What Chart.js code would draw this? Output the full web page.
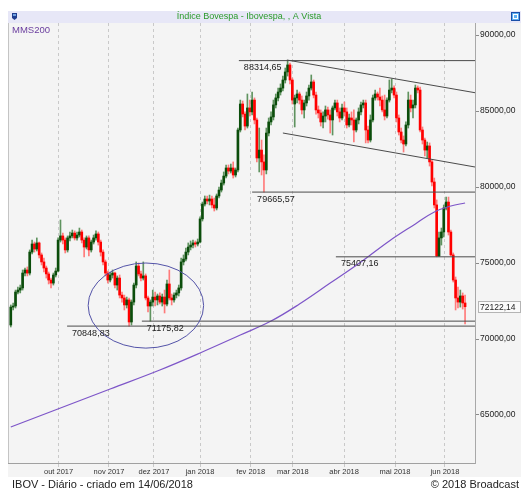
<!DOCTYPE html>
<html>
<head>
<meta charset="utf-8">
<script src="https://cdn.jsdelivr.net/npm/chart.js@4.4.1/dist/chart.umd.min.js"></script>
<style>
html,body{margin:0;padding:0;background:#ffffff;overflow:hidden}
#wrap{position:relative;width:521px;height:492px}
canvas{display:block}
</style>
</head>
<body>
<div id="wrap"><canvas id="c" width="521" height="492"></canvas></div>
<script>
// ---- Data (IBOV daily, 01/09/2017 .. 14/06/2018), trading-day index 0..192 ----
const opens = [
70920,72100,72170,73090,73220,73360,74340,74540,74340,75720,
76250,75920,76320,75530,75070,74670,74280,73880,73680,74210,
74470,76510,76780,76510,75860,76650,76780,76970,76650,76840,
77040,76510,76050,76650,75860,76380,76650,76910,76380,75720,
75070,74340,73880,74210,74340,73550,74010,72890,72700,72240,
72570,71120,72430,73550,74800,74280,74010,74150,72700,72170,
72430,72760,72570,72830,72430,72760,72300,73620,72700,72570,
72890,73030,73360,75070,75260,75720,76050,76180,76320,76250,
76380,77900,78880,79210,79080,79210,78820,78620,79410,79800,
80260,80720,81250,81050,81250,80790,81120,83750,85460,84800,
84010,85200,84940,85720,84410,81910,82430,81650,81120,83550,
84280,84610,85400,85860,86250,86510,87040,87570,88030,87040,
85460,85860,86120,85720,85070,85530,85990,86510,86910,86050,
85070,84870,84280,84670,85070,84740,84410,85200,85530,84940,
84540,85200,84940,84080,84540,84410,83750,84410,84940,85400,
85530,83750,83090,84410,85860,86120,85920,85720,85070,84670,
85720,86380,86510,86050,84540,83620,83090,82830,84080,85720,
85200,85400,86510,86380,83750,83090,82430,82700,81650,80330,
78820,75460,76650,77040,78620,79010,77040,75530,73880,72700,
72430,72830,72370
];
const highs = [
72240,72370,73220,73420,73550,74540,74670,74740,75860,76510,
76380,76650,76380,75660,75330,74800,74410,74010,74340,74670,
76650,77830,76970,76650,76780,77040,77170,77110,77040,77300,
77170,76650,76780,76780,76510,76840,77110,77040,76510,75860,
75200,74470,74410,74540,74410,74150,74210,73090,72890,72760,
72700,72570,73680,75070,75000,74470,75070,74280,72830,72570,
73220,73090,72960,73030,72960,73220,73880,74540,72960,73030,
73220,73550,75330,75530,75990,76320,76450,76510,76450,76580,
78030,79010,79410,79410,79470,79410,79280,79540,80000,80460,
80990,81450,81450,81510,81650,81250,83880,85720,85660,84940,
86120,85720,86250,85860,84540,83880,83090,82110,83880,84540,
84940,85720,86120,86510,86780,87300,87830,88314.65,88160,87170,
86050,86380,86250,85990,85720,86250,86710,87370,87040,86250,
85330,85070,84940,85330,85260,85070,85330,85720,85720,85200,
85460,85590,85200,84800,84940,85070,84540,85200,85590,85720,
85720,84010,84740,86050,86380,86250,86510,85990,86050,85860,
87040,87110,86650,86250,84740,83880,83360,84280,86250,86050,
85720,86710,86650,86580,83950,83220,82960,82900,81780,80590,
79150,77040,77300,78820,79340,79340,77170,75660,74080,73420,
73220,73030,72890
];
const lows = [
70790,71910,72040,72960,73030,73220,74150,74150,74210,75590,
75720,75790,75330,74870,74410,74010,73620,73360,73550,74080,
74410,76380,76250,75660,75720,76450,76650,76510,76510,76710,
76320,75400,75920,75460,75720,76250,76510,76180,75460,74870,
74150,73680,73750,74010,73360,73220,72700,72430,71910,72040,
70848.83,70920,72240,73360,74150,73820,73880,72570,71780,71175.82,
72170,72170,72240,72300,72170,71710,72170,72570,72240,72430,
72700,72830,73220,74870,75130,75530,75860,75990,76050,76120,
76320,77760,78750,78880,78820,78620,78420,78490,79280,79670,
80130,80590,80860,80920,80590,80660,80990,83620,84610,83750,
83880,84670,84740,84150,81650,80990,80790,79665.57,80860,83360,
84080,84410,85200,85660,86050,86320,86840,87300,86780,85460,
83950,85530,85460,84800,84540,85330,85720,86380,85860,84800,
84540,84010,83880,84280,84470,83550,83420,85070,84670,84280,
84410,84670,83880,83950,84080,82960,83620,84150,84740,85200,
82900,82900,82960,84280,85720,85720,85330,84940,84410,84540,
85590,86190,85860,84280,83420,82900,82300,82700,83880,84940,
84540,85200,86190,83620,82830,82040,81910,81380,80070,78620,
75407.16,75420,76180,76710,78490,76840,75460,73750,71910,72040,
72100,71970,70990
];
const closes = [
72100,72170,73090,73220,73360,74340,74540,74340,75720,76250,
75920,76320,75530,75070,74670,74280,73880,73680,74210,74470,
76510,76780,76510,75860,76650,76780,76970,76650,76840,77040,
76510,76050,76650,75860,76380,76650,76910,76380,75720,75070,
74340,73880,74210,74340,73550,74010,72890,72700,72240,72570,
71120,72430,73550,74800,74280,74010,74150,72700,72170,72430,
72760,72570,72830,72430,72760,72300,73620,72700,72570,72890,
73030,73360,75070,75260,75720,76050,76180,76320,76250,76380,
77900,78880,79210,79080,79210,78820,78620,79410,79800,80260,
80720,81250,81050,81250,80790,81120,83750,85460,84800,84010,
85200,84940,85720,84410,81910,82430,81650,81120,83550,84280,
84610,85400,85860,86250,86510,87040,87570,88030,87040,85720,
85860,86120,85720,85070,85530,85990,86510,86910,86050,85070,
84870,84280,84670,85070,84740,84410,85200,85530,84940,84540,
85200,84940,84080,84540,84410,83750,84410,84940,85400,85530,
83750,83090,84410,85860,86120,85920,85720,85070,84670,85720,
86380,86510,86050,84540,83620,83090,82830,84080,85720,85200,
85400,86510,86380,83750,83090,82430,82700,81650,80330,78820,
75460,76650,77040,78620,79010,77040,75530,73880,72700,72430,
72830,72370,72122.14
];

// 200-day moving average (MMS200), sampled along the trading-day index
const maIdx  = [0, 21, 42, 63, 80, 97, 110, 122, 135, 148, 160, 171, 179, 186, 192];
const maVals = [64210, 65460, 66710, 67960, 69080, 70260, 71180, 72300, 73680, 75070, 76450, 77570, 78360, 78750, 78950];

// Month ticks (trading-day index of the month boundary) and labels
const monthTicks  = [20.2, 41.5, 60.5, 80.0, 101.4, 119.2, 140.9, 162.4, 183.5];
const monthLabels = ['out 2017','nov 2017','dez 2017','jan 2018','fev 2018','mar 2018','abr 2018','mai 2018','jun 2018'];

// Price axis ticks
const yTicks = [65000, 70000, 75000, 80000, 85000, 90000];

// Drawn support / resistance levels and the index where each begins
const levels     = [88314.65, 79665.57, 75407.16, 71175.82, 70848.83];
const levelStart = [96.4, 102.0, 137.4, 55.4, 23.8];

// Channel trend lines: [startIndex, startValue, endIndex, endValue]
const channelUpper = [116.7, 88355, 196.2, 86204];
const channelLower = [115.0, 83553, 196.2, 81316];

// Ellipse around the double bottom: [centerIndex, centerValue, radiusIndex, radiusValue]
const bottomEllipse = [57.1, 72200, 24.4, 2800];

const lastValue = 72122.14;

// ---- Chart ----
const FONT = "'Liberation Sans', Arial, Helvetica, sans-serif";
const X_MIN = -1.18, X_MAX = 196.2, Y_MIN = 61842, Y_MAX = 90790;
const fmt = v => v.toFixed(2).replace('.', ',');
const idx = closes.map((_, i) => i);
const up = closes.map((c, i) => c >= opens[i]);

const UP_BODY = '#0b4d0b', UP_WICK = '#5f935f', DN_BODY = '#ff0000', DN_WICK = '#ff7b7b';
const LINE_COL = '#4a4a4a';

const datasets = [
  {
    type: 'bar', label: 'wick',
    data: idx.map(i => ({x: i, y: [lows[i], highs[i]]})),
    backgroundColor: up.map(u => u ? UP_WICK : DN_WICK),
    barThickness: 1, grouped: false, borderWidth: 0, order: 4
  },
  {
    type: 'bar', label: 'body',
    data: idx.map(i => ({x: i, y: [Math.min(opens[i], closes[i]), Math.max(opens[i], closes[i])]})),
    backgroundColor: up.map(u => u ? UP_BODY : DN_BODY),
    barThickness: 2, minBarLength: 1, grouped: false, borderWidth: 0, order: 3
  },
  {
    type: 'line', label: 'MMS200',
    data: maIdx.map((x, k) => ({x, y: maVals[k]})),
    borderColor: '#7d55c8', borderWidth: 1.2, pointRadius: 0, tension: 0.4, order: 2
  }
];
levels.forEach((lv, k) => datasets.push({
  type: 'line', label: 'lvl' + k,
  data: [{x: levelStart[k], y: lv}, {x: X_MAX, y: lv}],
  borderColor: LINE_COL, borderWidth: 1, pointRadius: 0, order: 1
}));
[channelUpper, channelLower].forEach((c, k) => datasets.push({
  type: 'line', label: 'ch' + k,
  data: [{x: c[0], y: c[1]}, {x: c[2], y: c[3]}],
  borderColor: LINE_COL, borderWidth: 1, pointRadius: 0, order: 1
}));

const chrome = {
  id: 'chrome',
  beforeDraw(chart) {
    const ctx = chart.ctx;
    ctx.save();
    ctx.fillStyle = '#ffffff';
    ctx.fillRect(0, 0, 521, 492);
    // header band
    ctx.fillStyle = '#e7e7f7';
    ctx.fillRect(8, 11, 513, 12);
    // panel
    ctx.fillStyle = '#f4f4f4';
    ctx.fillRect(8, 23, 513, 454);
    ctx.restore();
  },
  afterDatasetsDraw(chart) {
    const ctx = chart.ctx, xs = chart.scales.x, ys = chart.scales.y;
    ctx.save();
    // ellipse
    const cx = xs.getPixelForValue(bottomEllipse[0]);
    const cy = ys.getPixelForValue(bottomEllipse[1]);
    const rx = xs.getPixelForValue(bottomEllipse[0] + bottomEllipse[2]) - cx;
    const ry = cy - ys.getPixelForValue(bottomEllipse[1] + bottomEllipse[3]);
    ctx.strokeStyle = '#5353a8';
    ctx.lineWidth = 1;
    ctx.beginPath();
    ctx.ellipse(cx, cy, rx, ry, 0, 0, Math.PI * 2);
    ctx.stroke();
    // level labels
    ctx.font = '9px ' + FONT;
    ctx.fillStyle = '#222222';
    ctx.textAlign = 'left';
    ctx.textBaseline = 'middle';
    levels.forEach((lv, k) => {
      ctx.fillText(fmt(lv), xs.getPixelForValue(levelStart[k]) + 5, ys.getPixelForValue(lv) + 7);
    });
    ctx.restore();
  },
  afterDraw(chart) {
    const ctx = chart.ctx, ys = chart.scales.y, area = chart.chartArea;
    ctx.save();
    // left border of plot
    ctx.strokeStyle = '#c4c4c4';
    ctx.lineWidth = 1;
    ctx.beginPath();
    ctx.moveTo(area.left + 0.5, area.top);
    ctx.lineTo(area.left + 0.5, area.bottom);
    ctx.stroke();
    // last value box
    const ly = Math.round(ys.getPixelForValue(lastValue));
    ctx.fillStyle = '#fafafa';
    ctx.fillRect(478, ly - 5, 42, 11);
    ctx.strokeStyle = '#b4b4b4';
    ctx.strokeRect(478.5, ly - 5.5, 42, 11);
    ctx.fillStyle = '#222222';
    ctx.font = '8.5px ' + FONT;
    ctx.textAlign = 'left';
    ctx.textBaseline = 'middle';
    ctx.fillText(fmt(lastValue), 480, ly + 0.5);
    // header title
    ctx.fillStyle = '#2a9a2a';
    ctx.font = '9px ' + FONT;
    ctx.textAlign = 'center';
    ctx.fillText('Índice Bovespa - Ibovespa, , A Vista', 249, 17);
    // header icons
    ctx.fillStyle = '#1f3d8f';
    ctx.beginPath();
    ctx.moveTo(12, 13); ctx.lineTo(17, 13); ctx.lineTo(17, 18); ctx.lineTo(14.5, 20); ctx.lineTo(12, 18);
    ctx.closePath(); ctx.fill();
    ctx.fillStyle = '#6fa0e0';
    ctx.fillRect(13, 14, 3, 2);
    ctx.fillStyle = '#1a4fa8';
    ctx.fillRect(511, 12, 9, 9);
    ctx.fillStyle = '#5fb0f0';
    ctx.fillRect(512, 13, 7, 7);
    ctx.strokeStyle = '#ffffff';
    ctx.lineWidth = 1;
    ctx.strokeRect(513.5, 14.5, 4, 4);
    // MMS200 legend
    ctx.fillStyle = '#6a3d9e';
    ctx.font = '9.5px ' + FONT;
    ctx.textAlign = 'left';
    ctx.fillText('MMS200', 12, 30);
    // footer
    ctx.fillStyle = '#222222';
    ctx.font = '11px ' + FONT;
    ctx.textAlign = 'left';
    ctx.fillText('IBOV - Diário - criado em 14/06/2018', 12, 485);
    ctx.textAlign = 'right';
    ctx.fillText('© 2018 Broadcast', 519, 485);
    ctx.restore();
  }
};

new Chart(document.getElementById('c'), {
  type: 'bar',
  data: { datasets },
  options: {
    responsive: false,
    animation: false,
    devicePixelRatio: 1,
    layout: { padding: { left: 8, top: 23, right: 0, bottom: 15 } },
    plugins: { legend: { display: false }, tooltip: { enabled: false } },
    scales: {
      x: {
        type: 'linear', min: X_MIN, max: X_MAX, offset: false,
        afterBuildTicks: s => { s.ticks = monthTicks.map(v => ({value: v})); },
        afterFit: s => { s.height = 14; },
        ticks: {
          autoSkip: false, maxRotation: 0, padding: 0, color: '#333333',
          font: { family: FONT, size: 7.5 },
          callback: v => { const k = monthTicks.indexOf(v); return k >= 0 ? monthLabels[k] : ''; }
        },
        grid: { offset: false, color: '#c9c9c9', lineWidth: 1, tickLength: 4, drawTicks: true },
        border: { display: true, color: '#a0a0a0', dash: [3, 3] }
      },
      y: {
        type: 'linear', position: 'right', min: Y_MIN, max: Y_MAX,
        afterBuildTicks: s => { s.ticks = yTicks.map(v => ({value: v})); },
        afterFit: s => { s.width = 46; },
        ticks: {
          padding: 1, color: '#222222',
          font: { family: FONT, size: 8.5 },
          callback: v => fmt(v)
        },
        grid: { drawOnChartArea: false, drawTicks: true, tickLength: 4, color: '#8a8a8a' },
        border: { display: true, color: '#a8a8a8' }
      }
    }
  },
  plugins: [chrome]
});
</script>
</body>
</html>
